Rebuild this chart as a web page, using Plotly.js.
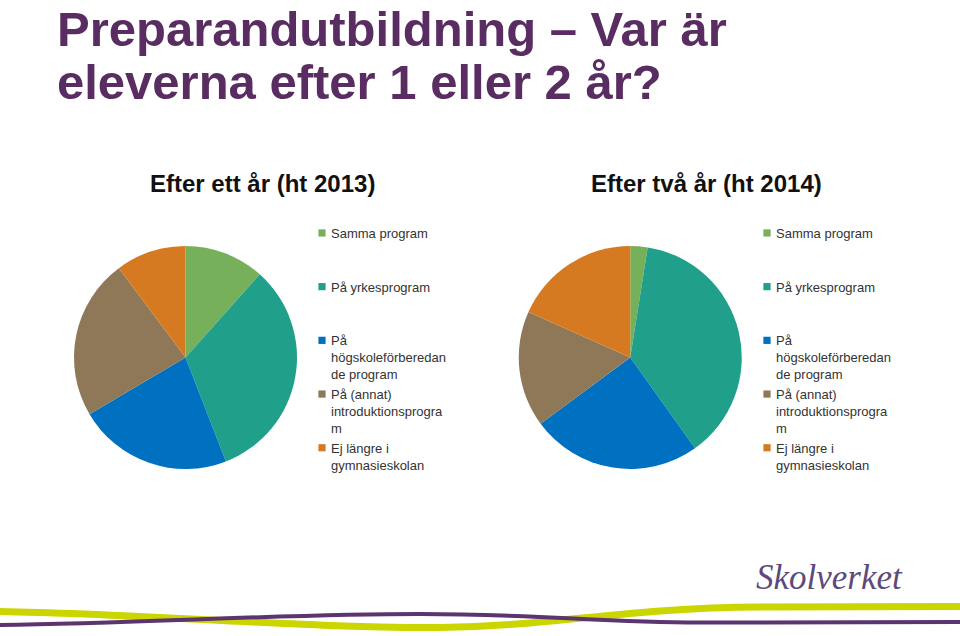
<!DOCTYPE html>
<html>
<head>
<meta charset="utf-8">
<script src="https://cdn.plot.ly/plotly-3.0.1.min.js"></script>
<style>html,body{margin:0;padding:0;background:#fff;}#chart{width:960px;height:636px;}</style>
</head>
<body>
<div id="chart"></div>
<script>
// Data
const categories = [
  "Samma program",
  "På yrkesprogram",
  "På högskoleförberedande program",
  "På (annat) introduktionsprogram",
  "Ej längre i gymnasieskolan"
];
const legendLabels = [
  "Samma program<br> <br> ",
  "På yrkesprogram<br> <br> ",
  "På<br>högskoleförberedan<br>de program",
  "På (annat)<br>introduktionsprogra<br>m",
  "Ej längre i<br>gymnasieskolan"
];
const values2013 = [11.6, 32.5, 22.4, 23.3, 10.2];
const values2014 = [2.5, 37.6, 24.7, 16.8, 18.3];
const sliceColors = ["#77b05a", "#20a08a", "#0070c0", "#8f7858", "#d67a22"];
const pieTitles = ["Efter ett år (ht 2013)", "Efter två år (ht 2014)"];
const mainTitle = ["Preparandutbildning – Var är", "eleverna efter 1 eller 2 år?"];

const W = 960, H = 636;
const px = (x) => x / W;
const py = (y) => 1 - y / H;
function pathFrom(cmds) {
  return cmds.map(c => c[0] + ' ' + c.slice(1).map((v, i) => i % 2 === 0 ? px(v).toFixed(5) : py(v).toFixed(5)).join(' ')).join(' ');
}

const pieBase = {
  type: 'pie', sort: false, direction: 'clockwise', rotation: 0,
  textinfo: 'none', hoverinfo: 'label+percent',
  marker: {colors: sliceColors, line: {width: 0}}
};

// second legend needs its own label keys (pie legends are keyed by label)
const legendLabels2 = legendLabels.map(l => l + '\u200b');

const traces = [
  Object.assign({}, pieBase, {
    labels: legendLabels, values: values2013, name: pieTitles[0],
    domain: {x: [px(74), px(297)], y: [py(469), py(246)]},
    legend: 'legend'
  }),
  Object.assign({}, pieBase, {
    labels: legendLabels2, values: values2014, name: pieTitles[1],
    domain: {x: [px(518.5), px(742)], y: [py(469), py(246)]},
    legend: 'legend2'
  })
];

const legendCommon = {
  xanchor: 'left', yanchor: 'top', valign: 'top',
  bgcolor: 'rgba(0,0,0,0)',
  font: {family: 'Liberation Sans, Arial, sans-serif', size: 13, color: '#333333'},
  itemclick: false, itemdoubleclick: false
};

const yellowPath = pathFrom([
  ['M', 0, 611.5],
  ['C', 150, 614, 300, 628, 440, 627.5],
  ['C', 560, 626, 620, 608, 760, 607],
  ['L', 960, 606.5]
]);
const purplePath = pathFrom([
  ['M', 0, 625],
  ['C', 150, 623, 280, 614, 420, 614],
  ['C', 540, 614, 600, 622.5, 700, 622.5],
  ['L', 960, 622]
]);

const titleFont = {family: 'Liberation Sans, Arial, sans-serif', size: 49, color: '#5a2d62'};
const subFont = {family: 'Liberation Sans, Arial, sans-serif', size: 24, color: '#111111'};

const layout = {
  width: W, height: H,
  margin: {l: 0, r: 0, t: 0, b: 0},
  paper_bgcolor: '#ffffff',
  showlegend: true,
  legend: Object.assign({}, legendCommon, {x: px(291), y: py(218)}),
  legend2: Object.assign({}, legendCommon, {x: px(736), y: py(218)}),
  shapes: [
    {type: 'path', xref: 'paper', yref: 'paper', path: yellowPath, line: {color: '#cbd500', width: 7}},
    {type: 'path', xref: 'paper', yref: 'paper', path: purplePath, line: {color: '#5b3470', width: 4}}
  ],
  annotations: [
    {text: '<b>' + mainTitle[0] + '</b>', xref: 'paper', yref: 'paper', x: px(55), y: py(0), xanchor: 'left', yanchor: 'top', showarrow: false, font: titleFont},
    {text: '<b>' + mainTitle[1] + '</b>', xref: 'paper', yref: 'paper', x: px(55), y: py(53), xanchor: 'left', yanchor: 'top', showarrow: false, font: titleFont},
    {text: '<b>' + pieTitles[0] + '</b>', xref: 'paper', yref: 'paper', x: px(262), y: py(184), xanchor: 'center', yanchor: 'middle', showarrow: false, font: subFont},
    {text: '<b>' + pieTitles[1] + '</b>', xref: 'paper', yref: 'paper', x: px(706), y: py(184), xanchor: 'center', yanchor: 'middle', showarrow: false, font: subFont},
    {text: '<i>Skolverket</i>', xref: 'paper', yref: 'paper', x: px(829), y: py(577), xanchor: 'center', yanchor: 'middle', showarrow: false,
      font: {family: 'Liberation Serif, Times New Roman, serif', size: 35, color: '#5c4a7d'}}
  ]
};

Plotly.newPlot('chart', traces, layout, {displayModeBar: false, staticPlot: true}).then(gd => {
  // smaller legend swatches placed close to the text, like the reference
  gd.querySelectorAll('.legendpoints path').forEach(p => {
    p.setAttribute('transform', 'translate(31,0) scale(0.6)');
  });
});
</script>
</body>
</html>
